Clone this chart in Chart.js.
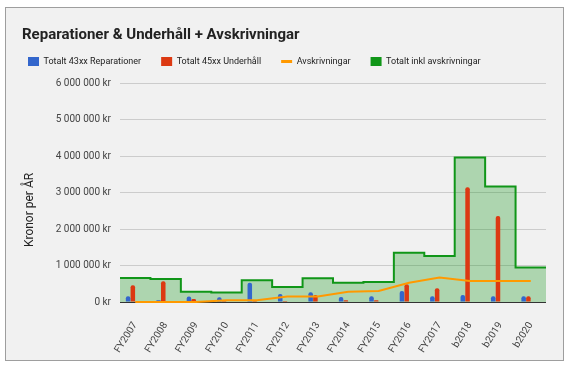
<!DOCTYPE html>
<html>
<head>
<meta charset="utf-8">
<script src="https://cdn.jsdelivr.net/npm/chart.js@4"></script>
<style>
  html, body { margin: 0; padding: 0; background: #fff; }
  .frame {
    position: absolute; left: 5px; top: 7px;
    width: 557px; height: 352px;
    border: 1px solid #9e9e9e; background: #f1f1f1;
  }
  canvas { display: block; }
</style>
</head>
<body>
<div class="frame"><canvas id="chart" width="557" height="352" style="width:557px;height:352px"></canvas></div>
<script>
const categories = ['FY2007', 'FY2008', 'FY2009', 'FY2010', 'FY2011', 'FY2012', 'FY2013',
  'FY2014', 'FY2015', 'FY2016', 'FY2017', 'b2018', 'b2019', 'b2020'];

// Totalt 43xx Reparationer
const rep43 = [160000, 50000, 150000, 130000, 530000, 220000, 270000,
  140000, 160000, 300000, 160000, 190000, 160000, 160000];
// Totalt 45xx Underhåll
const und45 = [460000, 570000, 80000, 30000, 30000, 30000, 190000,
  50000, 50000, 490000, 380000, 3150000, 2360000, 160000];
// Avskrivningar
const avskr = [0, 0, 0, 50000, 50000, 150000, 150000,
  280000, 300000, 530000, 670000, 580000, 580000, 580000];
// Totalt inkl avskrivningar
const total = [660000, 630000, 280000, 260000, 600000, 410000, 650000,
  530000, 550000, 1350000, 1260000, 3970000, 3170000, 950000];

const yTicks = [0, 1000000, 2000000, 3000000, 4000000, 5000000, 6000000];
const yTickLabels = ['0 kr', '1 000 000 kr', '2 000 000 kr', '3 000 000 kr',
  '4 000 000 kr', '5 000 000 kr', '6 000 000 kr'];

const titleText = 'Reparationer & Underhåll + Avskrivningar';
const yTitle = 'Kronor per ÅR';

// stepped area runs edge to edge of each category, so put it on a hidden linear axis
const stepPoints = total.map((v, i) => ({ x: i - 0.5, y: v }));
stepPoints.push({ x: categories.length - 0.5, y: total[total.length - 1] });

const font = { family: 'Roboto', size: 10 };

// only the two bar series should share a category slot; the lines were
// getting counted as extra slots and squeezing the bars
function fixBarSlots(chart) {
  chart.data.datasets.forEach((ds, i) => {
    const meta = chart.getDatasetMeta(i);
    if (meta.type !== 'bar' || !meta.controller) return;
    const slot = i;
    meta.controller._getStackCount = () => 2;
    meta.controller._getStackIndex = () => slot;
  });
}

const nudge = {
  id: 'nudge',
  beforeLayout(chart) {
    const lg = chart.legend;
    if (lg && !lg._patched) {
      const fit = lg.fit;
      lg.fit = function () {
        fit.call(this);
        this.height += 7.5;
      };
      lg._patched = true;
    }
  },
  beforeElementsUpdate(chart) { fixBarSlots(chart); },
  beforeDatasetsUpdate(chart) { fixBarSlots(chart); },
  afterLayout(chart) {
    if (chart.titleBlock) chart.titleBlock.left = 16;
  },
  // axis title sits a bit below the middle of the plot, like the original
  afterDraw(chart) {
    const c = chart.ctx;
    c.save();
    c.translate(24, 202);
    c.rotate(-Math.PI / 2);
    c.font = '12px Roboto';
    c.fillStyle = '#222';
    c.textAlign = 'center';
    c.textBaseline = 'middle';
    c.fillText(yTitle, 0, 0);
    c.restore();
  }
};

const ctx = document.getElementById('chart').getContext('2d');

new Chart(ctx, {
  type: 'bar',
  data: {
    labels: categories,
    datasets: [
      {
        label: 'Totalt 43xx Reparationer',
        data: rep43,
        backgroundColor: '#3366cc',
        borderWidth: 0,
        borderRadius: 2,
        categoryPercentage: 0.625,
        barPercentage: 0.95,
        pointStyle: 'rect',
        order: 1,
      },
      {
        label: 'Totalt 45xx Underhåll',
        data: und45,
        backgroundColor: '#dc3912',
        borderWidth: 0,
        borderRadius: 2,
        categoryPercentage: 0.625,
        barPercentage: 0.95,
        pointStyle: 'rect',
        order: 1,
      },
      {
        type: 'line',
        label: 'Avskrivningar',
        data: avskr,
        borderColor: '#ff9900',
        backgroundColor: '#ff9900',
        borderWidth: 2,
        pointRadius: 0,
        tension: 0,
        clip: 4,
        pointStyle: 'line',
        order: 0,
      },
      {
        type: 'line',
        label: 'Totalt inkl avskrivningar',
        data: stepPoints,
        xAxisID: 'x2',
        stepped: true,
        fill: 'origin',
        borderColor: '#109618',
        backgroundColor: 'rgba(16, 150, 24, 0.3)',
        borderWidth: 2,
        pointRadius: 0,
        pointStyle: 'rect',
        order: 2,
      },
    ],
  },
  options: {
    responsive: false,
    animation: false,
    layout: { padding: { left: 2, right: 17, top: 0, bottom: 0 } },
    plugins: {
      title: {
        display: true,
        text: titleText,
        align: 'start',
        color: '#222',
        font: { family: 'Roboto', size: 15, weight: 'bold' },
        padding: { top: 18, bottom: -7 },
      },
      legend: {
        align: 'start',
        labels: {
          usePointStyle: true,
          pointStyleWidth: 11,
          boxHeight: 9,
          padding: 20,
          color: '#222',
          font: { family: 'Roboto', size: 9 },
          sort: (a, b) => a.datasetIndex - b.datasetIndex,
          generateLabels(chart) {
            const items = Chart.defaults.plugins.legend.labels.generateLabels(chart);
            items.forEach(it => {
              if (it.datasetIndex === 3) {
                it.fillStyle = '#109618';
                it.lineWidth = 0;
              }
              if (it.datasetIndex === 2) it.lineWidth = 3;
            });
            return items;
          },
        },
      },
      tooltip: { enabled: false },
    },
    scales: {
      x: {
        grid: { display: false },
        border: { display: false },
        ticks: { minRotation: 58, maxRotation: 58, color: '#444', font, padding: 10 },
        afterFit(s) { s.height = 58; },
      },
      x2: {
        type: 'linear',
        display: false,
        min: -0.5,
        max: categories.length - 0.5,
        offset: false,
      },
      y: {
        min: 0,
        max: 6000000,
        ticks: {
          stepSize: 1000000,
          color: '#444',
          font,
          padding: 9,
          callback: v => yTickLabels[yTicks.indexOf(v)],
        },
        grid: {
          color: c => (c.tick && c.tick.value === 0 ? '#333' : '#cccccc'),
          drawTicks: false,
        },
        border: { display: false },
        title: { display: false },
        afterFit(s) { s.width = 112; },
      },
    },
  },
  plugins: [nudge],
});
</script>
</body>
</html>
